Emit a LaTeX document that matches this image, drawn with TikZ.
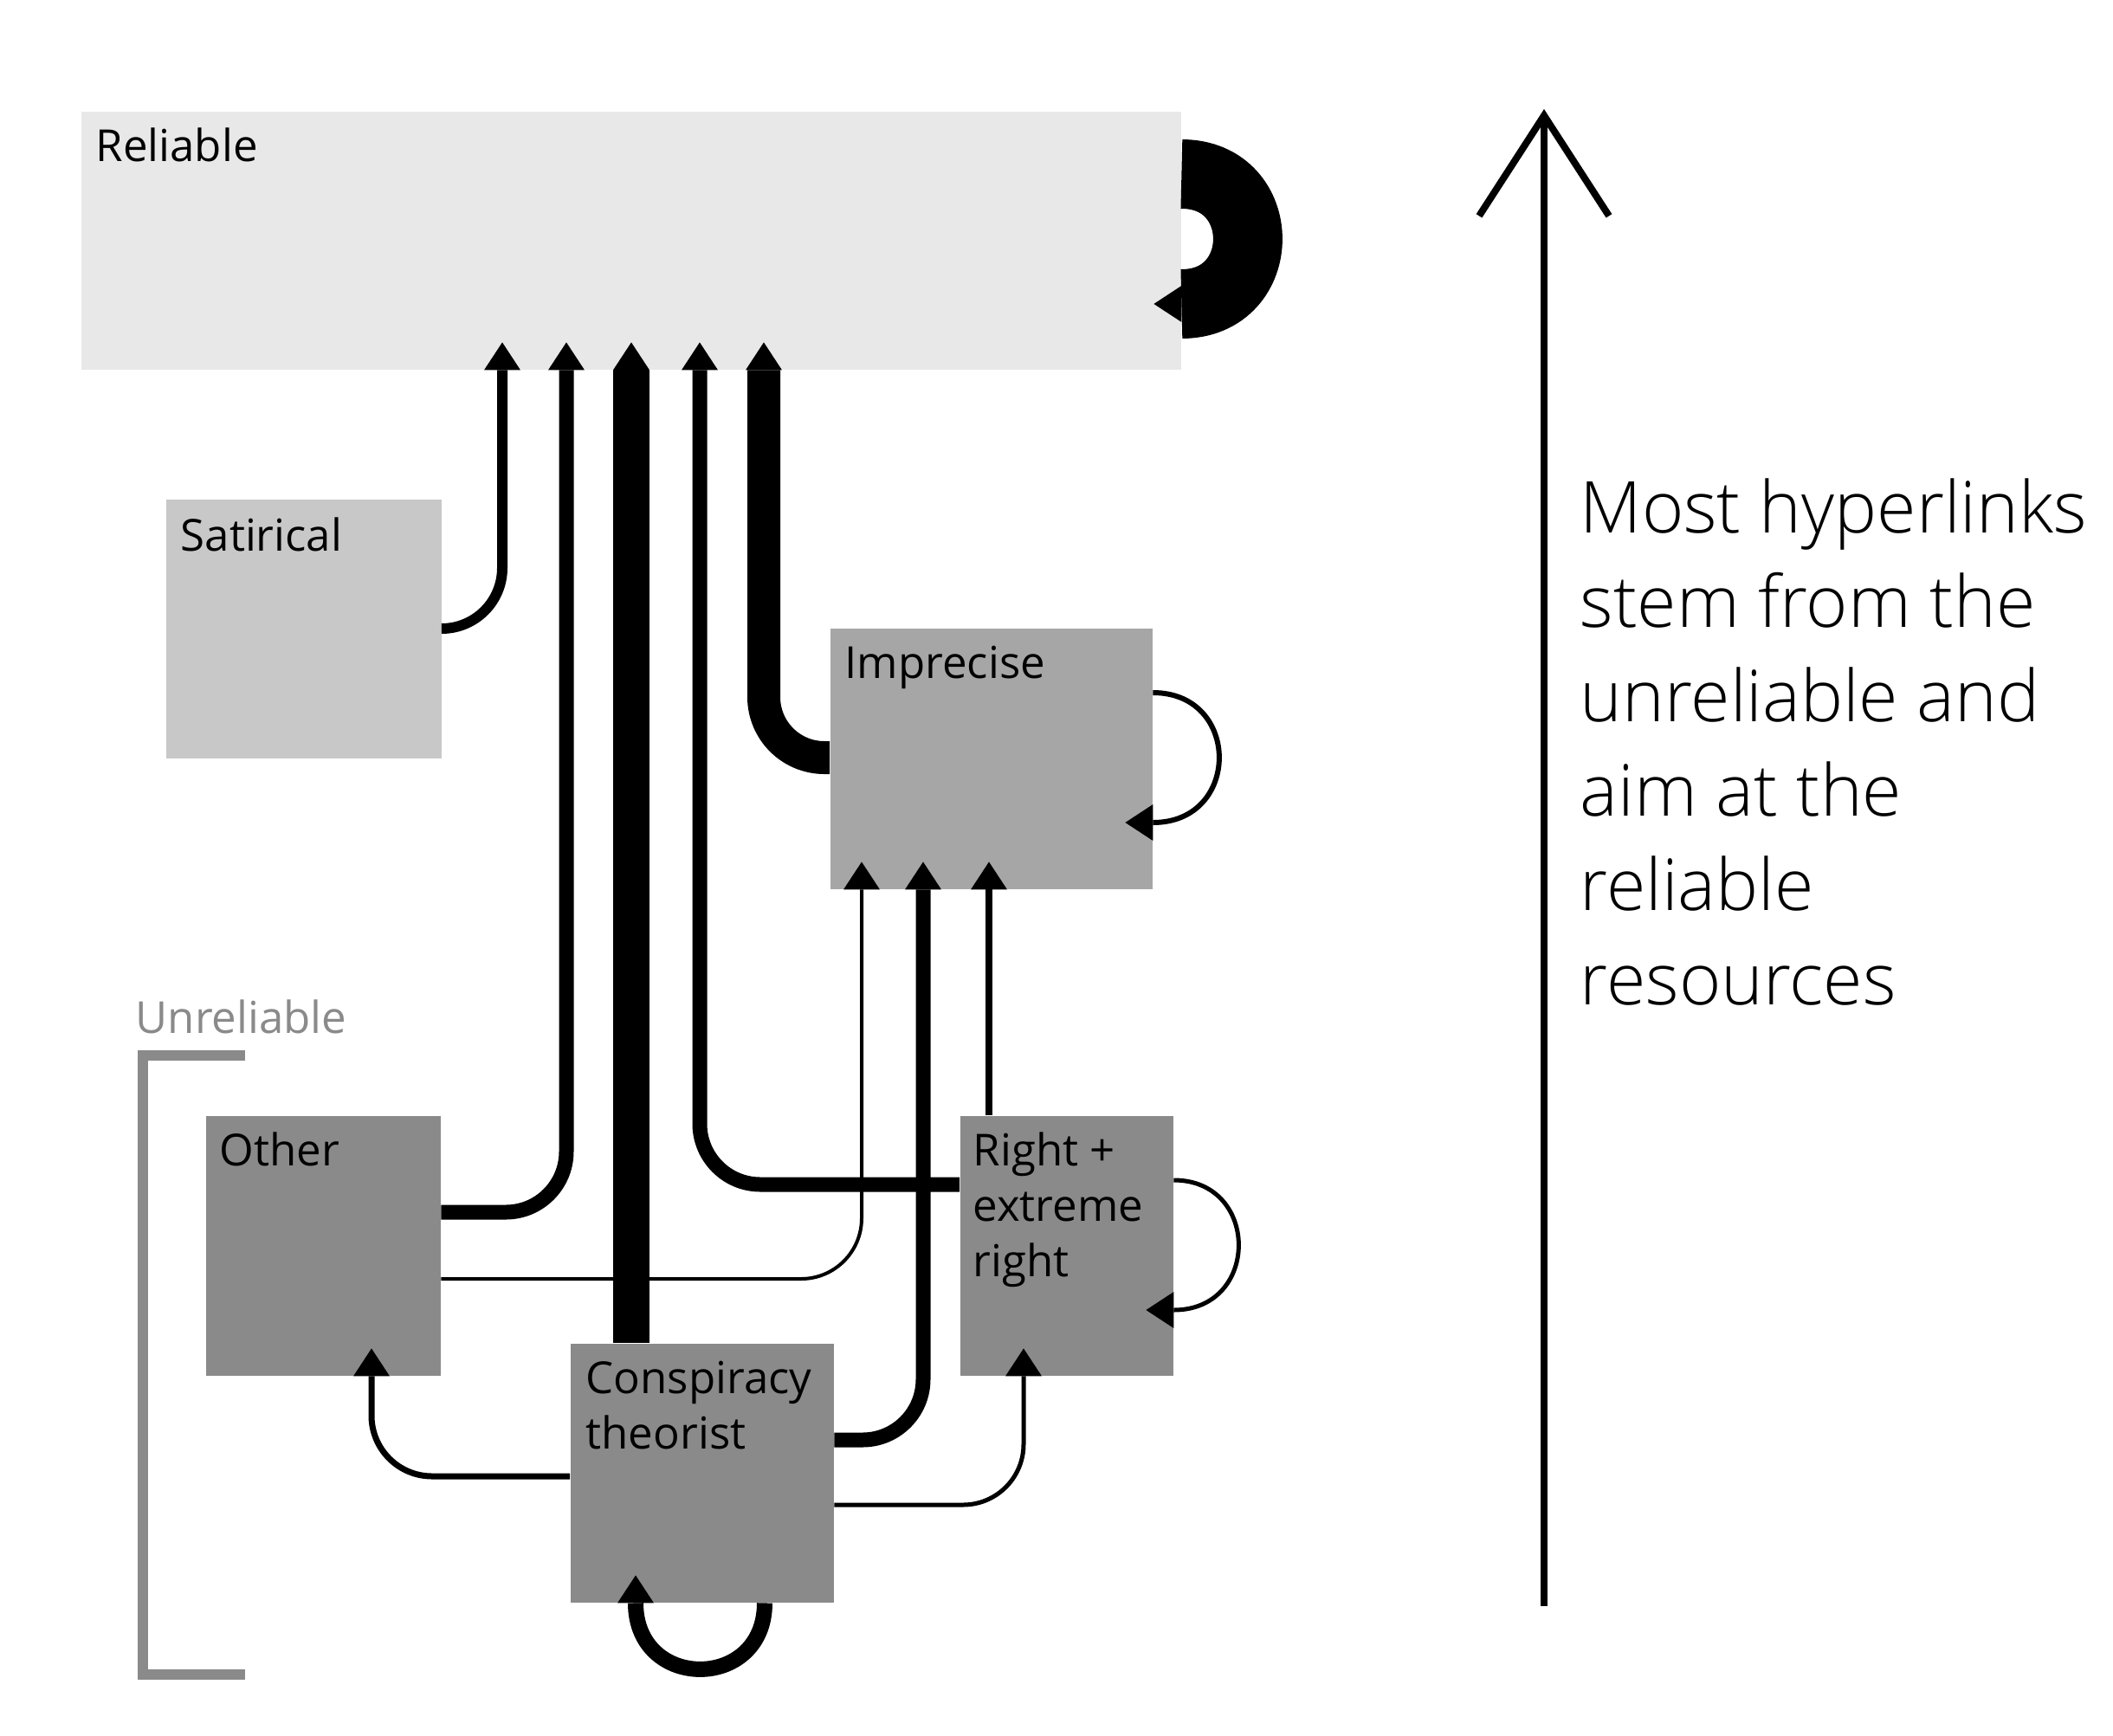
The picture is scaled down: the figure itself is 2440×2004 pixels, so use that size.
\documentclass[tikz,border=0pt]{standalone}
\usepackage{fontspec}
\setmainfont{Open Sans}
\newfontfamily\notefont{Open Sans Light}
\usepackage{tikz}
\usetikzlibrary{arrows.meta,positioning,calc}
\usepackage{xcolor}
\definecolor{relgray}{HTML}{E8E8E8}
\definecolor{satgray}{HTML}{C8C8C8}
\definecolor{impgray}{HTML}{A6A6A6}
\definecolor{unrgray}{HTML}{8A8A8A}

\begin{document}
\begin{tikzpicture}[x=0.1mm,y=-0.1mm,
  box/.style={rectangle,draw=none,anchor=north west,inner sep=0pt},
  lbl/.style={anchor=base west,align=left,inner sep=0pt,font=\fontsize{14.5}{18.2}\selectfont},
  link/.style={rounded corners=7mm,-{Triangle[width=4.2mm,length=3.2mm,line width=0pt]},shorten >=-3.2mm},
  selfloop/.style={-{Triangle[width=4.2mm,length=3.2mm,line width=0pt]},shorten >=-3.2mm}]
  \useasboundingbox (0,0) rectangle (2440,2004);

  % sources
  \node[box,fill=relgray,minimum width=127mm,minimum height=29.8mm] (rel) at (93,128) {};
  \node[box,fill=satgray,minimum width=31.8mm,minimum height=29.9mm] (sat) at (191,576) {};
  \node[box,fill=impgray,minimum width=37.2mm,minimum height=30.1mm] (imp) at (958,725) {};
  \node[box,fill=unrgray,minimum width=27.1mm,minimum height=30mm] (oth) at (237,1288) {};
  \node[box,fill=unrgray,minimum width=24.6mm,minimum height=30mm] (rgt) at (1108,1288) {};
  \node[box,fill=unrgray,minimum width=30.4mm,minimum height=29.9mm] (con) at (658,1551) {};

  % labels sit on the baseline of their last line
  \node[lbl] (rel-lbl) at ($(rel.north west)+(17,58)$) {Reliable};
  \node[lbl] (sat-lbl) at ($(sat.north west)+(17,60)$) {Satirical};
  \node[lbl] (imp-lbl) at ($(imp.north west)+(17,58)$) {Imprecise};
  \node[lbl] (oth-lbl) at ($(oth.north west)+(16,58)$) {Other};
  \node[lbl] (rgt-lbl) at ($(rgt.north west)+(15,186)$) {Right +\\extreme\\right};
  \node[lbl] (con-lbl) at ($(con.north west)+(18,122)$) {Conspiracy\\theorist};

  % unreliable group
  \draw[unrgray,line width=1.2mm] (283,1219) -| (165,1934) -- (283,1934);
  \node[lbl,text=unrgray] (unr-lbl) at (156,1193) {Unreliable};

  % links into reliable
  \draw[link,line width=1.2mm] (sat.east |- 0,726) -| (580,0 |- rel.south);
  \draw[link,line width=1.7mm] (oth.east |- 0,1400) -| (654,0 |- rel.south);
  \draw[link,line width=4.2mm] (con.north -| 729,0) -- (729,0 |- rel.south);
  \draw[link,line width=1.7mm] (rgt.west |- 0,1368) -| (808,0 |- rel.south);
  \draw[link,line width=3.8mm] (imp.west |- 0,875) -| (882,0 |- rel.south);

  % links into imprecise
  \draw[link,line width=0.4mm] (oth.east |- 0,1477) -| (995,0 |- imp.south);
  \draw[link,line width=1.7mm] (con.east |- 0,1663) -| (1066,0 |- imp.south);
  \draw[link,line width=0.8mm] (rgt.north -| 1142,0) -- (1142,0 |- imp.south);

  % links out of conspiracy
  \draw[link,line width=0.7mm] (con.west |- 0,1705) -| (429,0 |- oth.south);
  \draw[link,line width=0.5mm] (con.east |- 0,1738) -| (1182,0 |- rgt.south);

  % self links
  \draw[selfloop,line width=8mm] (rel.east |- 0,201) .. controls +(102,0) and +(102,0) .. (rel.east |- 0,351);
  \draw[selfloop,line width=0.6mm] (imp.east |- 0,800) .. controls +(102,0) and +(102,0) .. (imp.east |- 0,950);
  \draw[selfloop,line width=0.5mm] (rgt.east |- 0,1363) .. controls +(100,0) and +(100,0) .. (rgt.east |- 0,1513);
  \draw[selfloop,line width=1.8mm] (con.south -| 883,0) .. controls +(0,102) and +(0,102) .. (734,0 |- con.south);

  % direction arrow
  \coordinate (dir-bot) at (1783,1855);
  \coordinate (dir-top) at (1783,126);
  \draw[line width=0.8mm,-{Straight Barb[length=11.6mm,width=15mm]}] (dir-bot) -- (dir-top);
  \node[anchor=base west,align=left,inner sep=0pt,font=\notefont\fontsize{23.5}{31}\selectfont] (note) at (1824,1160)
    {Most hyperlinks\\stem from the\\unreliable and\\aim at the\\reliable\\resources};
\end{tikzpicture}
\end{document}
